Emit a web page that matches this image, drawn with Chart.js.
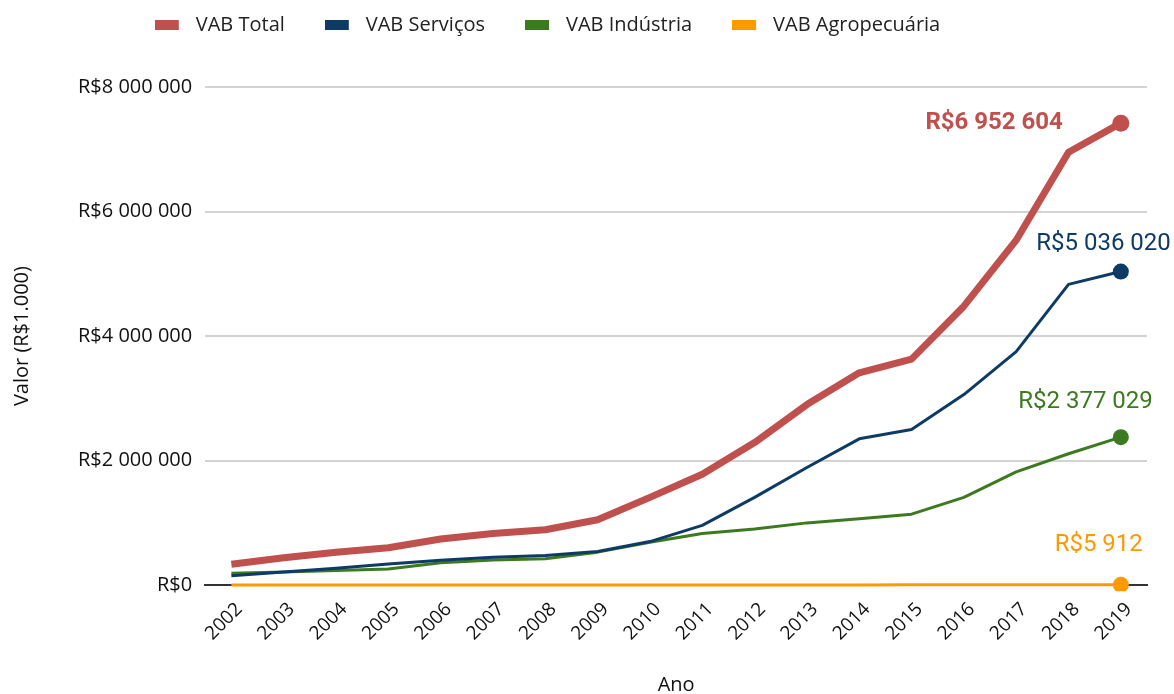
<!DOCTYPE html>
<html>
<head>
<meta charset="utf-8">
<script src="https://cdn.jsdelivr.net/npm/chart.js@4/dist/chart.umd.min.js"></script>
<style>
  html, body { margin: 0; padding: 0; background: #fff; }
  #wrap { width: 1174px; height: 694px; position: relative; }
</style>
</head>
<body>
<div id="wrap"><canvas id="c" width="1174" height="694"></canvas></div>
<script>
const years = ['2002','2003','2004','2005','2006','2007','2008','2009','2010','2011','2012','2013','2014','2015','2016','2017','2018','2019'];
const vabTotal = [335000, 440000, 530000, 600000, 740000, 830000, 890000, 1050000, 1410000, 1780000, 2290000, 2900000, 3410000, 3630000, 4480000, 5540000, 6952604, 7419000];
const vabServicos = [150000, 210000, 270000, 340000, 400000, 450000, 475000, 540000, 700000, 960000, 1410000, 1890000, 2350000, 2500000, 3060000, 3750000, 4830000, 5036020];
const vabIndustria = [190000, 210000, 235000, 260000, 360000, 405000, 425000, 530000, 690000, 830000, 900000, 1000000, 1065000, 1140000, 1410000, 1820000, 2110000, 2377029];
const vabAgro = [1580, 1720, 1890, 1650, 1900, 2100, 2450, 2300, 2600, 3100, 3400, 3700, 4200, 4500, 4900, 5200, 5600, 5912];
const endLabels = ['R$6 952 604', 'R$5 036 020', 'R$2 377 029', 'R$5 912'];
const yTicks = [0, 2000000, 4000000, 6000000, 8000000];

function fmt(v) {
  return 'R$' + Math.round(v).toString().replace(/\B(?=(\d{3})+(?!\d))/g, ' ');
}

const n = years.length;
const lastPt = (r) => (ctx) => ctx.dataIndex === n - 1 ? r : 0;

// legend swatch: 24x10 coloured bar inside a 31px wide transparent image
function swatch(color) {
  const c = document.createElement('canvas');
  c.width = 31; c.height = 10;
  const g = c.getContext('2d');
  g.fillStyle = color;
  g.fillRect(0, 0, 24, 10);
  return c;
}

const endLabelPlugin = {
  id: 'endLabels',
  afterDatasetsDraw(chart) {
    const ctx = chart.ctx;
    chart.data.datasets.forEach((ds, i) => {
      const meta = chart.getDatasetMeta(i);
      const p = meta.data[meta.data.length - 1];
      const o = ds.endLabel;
      ctx.save();
      ctx.font = (o.bold ? 'bold ' : '') + '24px Roboto';
      ctx.fillStyle = ds.borderColor;
      ctx.textAlign = 'right';
      ctx.textBaseline = 'middle';
      ctx.fillText(endLabels[i], p.x + o.dx, p.y + o.dy);
      ctx.restore();
    });
  }
};

const legendShift = {
  id: 'legendShift',
  afterLayout(chart) {
    if (chart.legend) { chart.legend.left -= 28; chart.legend.right -= 28; }
  }
};

new Chart(document.getElementById('c'), {
  type: 'line',
  data: {
    labels: years,
    datasets: [
      { label: 'VAB Total', data: vabTotal, borderColor: '#c0504d', backgroundColor: '#c0504d',
        borderWidth: 7, borderJoinStyle: 'round', pointRadius: lastPt(8.5), pointHoverRadius: lastPt(8.5), pointBorderWidth: 0, tension: 0,
        endLabel: { dx: -58, dy: 0, bold: true } },
      { label: 'VAB Serviços', data: vabServicos, borderColor: '#0e3a66', backgroundColor: '#0e3a66',
        borderWidth: 3, borderJoinStyle: 'round', pointRadius: lastPt(8), pointHoverRadius: lastPt(8), pointBorderWidth: 0, tension: 0,
        endLabel: { dx: 50, dy: -28, bold: false } },
      { label: 'VAB Indústria', data: vabIndustria, borderColor: '#3b7a1f', backgroundColor: '#3b7a1f',
        borderWidth: 3, borderJoinStyle: 'round', pointRadius: lastPt(8), pointHoverRadius: lastPt(8), pointBorderWidth: 0, tension: 0,
        endLabel: { dx: 32, dy: -35, bold: false } },
      { label: 'VAB Agropecuária', data: vabAgro, borderColor: '#ff9900', backgroundColor: '#ff9900',
        borderWidth: 3, borderJoinStyle: 'round', pointRadius: lastPt(8), pointHoverRadius: lastPt(8), pointBorderWidth: 0, tension: 0,
        clip: 6,
        endLabel: { dx: 22, dy: -40, bold: false } }
    ]
  },
  options: {
    responsive: false,
    animation: false,
    layout: { padding: { left: 4, right: 27, top: -25, bottom: -3 } },
    plugins: {
      title: { display: true, text: ' ', weight: 500, font: { size: 20 }, padding: { top: 9, bottom: 9 } },
      legend: {
        position: 'top',
        labels: {
          usePointStyle: true, pointStyleWidth: 31, boxHeight: 10, padding: 40,
          color: '#222',
          font: { family: 'Open Sans', size: 20 },
          generateLabels: (chart) => {
            const items = Chart.defaults.plugins.legend.labels.generateLabels(chart);
            items.forEach((it, i) => { it.pointStyle = swatch(chart.data.datasets[i].borderColor); });
            return items;
          }
        }
      },
      tooltip: { enabled: false }
    },
    scales: {
      x: {
        offset: true,
        grid: { display: false },
        border: { display: true, color: '#333', width: 2 },
        ticks: { color: '#111', font: { family: 'Open Sans', size: 19 }, minRotation: 45, maxRotation: 45, padding: 5, labelOffset: 8 },
        title: { display: true, text: 'Ano', color: '#111', font: { family: 'Open Sans', size: 20 }, padding: { top: 23, bottom: 0 } }
      },
      y: {
        min: 0, max: 8000000,
        afterBuildTicks: (axis) => { axis.ticks = yTicks.map(v => ({ value: v })); },
        grid: { color: '#d3d3d3', lineWidth: 2, drawTicks: false },
        border: { display: false },
        ticks: { color: '#111', font: { family: 'Open Sans', size: 20 }, padding: 13, callback: (v) => fmt(v) },
        title: { display: true, text: 'Valor (R$1.000)', color: '#111', font: { family: 'Open Sans', size: 20 }, padding: { top: 6, bottom: 31 } }
      }
    }
  },
  plugins: [endLabelPlugin, legendShift]
});
</script>
</body>
</html>
